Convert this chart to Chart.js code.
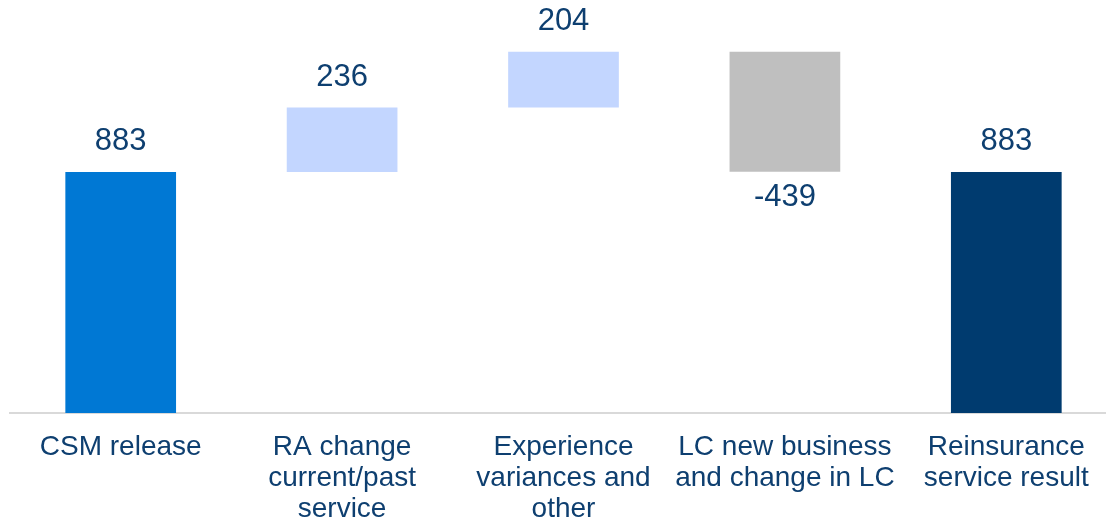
<!DOCTYPE html>
<html>
<head>
<meta charset="utf-8">
<script src="https://cdn.jsdelivr.net/npm/chart.js@4"></script>
<style>
  html, body { margin: 0; padding: 0; background: #fff; overflow: hidden; }
  .wrap { width: 1117px; height: 522px; }
</style>
</head>
<body>
<div class="wrap"><canvas id="waterfall"></canvas></div>
<script>
// ===== Data =====
const categories = [
  ['CSM release'],
  ['RA change', 'current/past', 'service'],
  ['Experience', 'variances and', 'other'],
  ['LC new business', 'and change in LC'],
  ['Reinsurance', 'service result']
];
const values = [883, 236, 204, -439, 883];
const isTotal = [true, false, false, false, true];
const barColors = ['#0078D4', '#C3D6FF', '#C3D6FF', '#BFBFBF', '#003B6F'];

// build floating ranges for the waterfall
let running = 0;
const ranges = values.map((v, i) => {
  if (isTotal[i]) { running = v; return [0, v]; }
  const start = running;
  running += v;
  return [start, running];
});

const textColor = '#0E3F70';

// ===== Value labels =====
const valueLabels = {
  id: 'valueLabels',
  afterDatasetsDraw(chart) {
    const ctx = chart.ctx;
    const meta = chart.getDatasetMeta(0);
    ctx.save();
    ctx.font = '31px "Liberation Sans", Arial, sans-serif';
    ctx.fillStyle = textColor;
    ctx.textAlign = 'center';
    ctx.textBaseline = 'alphabetic';
    meta.data.forEach((bar, i) => {
      const { x, y, base } = bar.getProps(['x', 'y', 'base'], true);
      const top = Math.min(y, base), bottom = Math.max(y, base);
      if (values[i] >= 0) {
        ctx.fillText(values[i], x, top - 22);
      } else {
        ctx.fillText(values[i], x, bottom + 34);
      }
    });
    ctx.restore();
  }
};

new Chart(document.getElementById('waterfall'), {
  type: 'bar',
  data: {
    labels: categories,
    datasets: [{
      data: ranges,
      backgroundColor: barColors,
      borderWidth: 0,
      barPercentage: 0.5,
      categoryPercentage: 1.0
    }]
  },
  options: {
    responsive: true,
    maintainAspectRatio: false,
    animation: false,
    layout: { padding: { left: 10, right: 0, top: 0, bottom: 0 } },
    plugins: { legend: { display: false }, tooltip: { enabled: false } },
    scales: {
      x: {
        grid: { display: false },
        border: { color: '#D9D9D9', width: 2 },
        ticks: {
          color: textColor,
          font: { family: '"Liberation Sans", Arial, sans-serif', size: 28, lineHeight: 1.11 },
          padding: 11,
          maxRotation: 0,
          autoSkip: false
        },
        afterFit(scale) { scale.height = 109; }
      },
      y: {
        display: false,
        min: 0,
        max: 1513
      }
    }
  },
  plugins: [valueLabels]
});
</script>
</body>
</html>
